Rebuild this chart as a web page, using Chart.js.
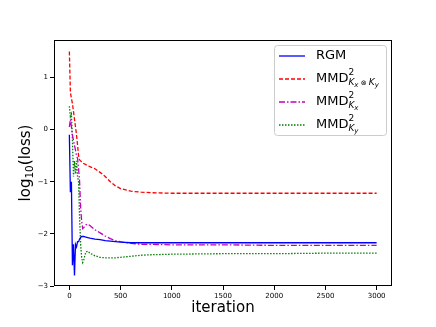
<!DOCTYPE html>
<html>
<head>
<meta charset="utf-8">
<script src="https://cdn.jsdelivr.net/npm/chart.js@4"></script>
<style>
  html, body { margin: 0; padding: 0; background: #fff; }
  #wrap { width: 436px; height: 327px; }
</style>
</head>
<body>
<div id="wrap"><canvas id="lossChart" width="436" height="327"></canvas></div>
<script>
const iterations = [0, 10, 20, 30, 40, 50, 60, 70, 80, 90, 100, 110, 120, 130, 140, 160, 180, 200,
    250, 300, 350, 400, 450, 500, 600, 700, 800, 1000, 1500, 2000, 2500, 3000];

const rgm = [-0.1, -1.2, -1.0, -2.6, -2.2, -2.8, -2.2, -2.25, -2.15, -2.15, -2.1, -2.07, -2.05, -2.05, -2.05,
    -2.06, -2.07, -2.08, -2.1, -2.11, -2.13, -2.14, -2.15, -2.16, -2.17, -2.17, -2.17, -2.17, -2.17, -2.17, -2.17, -2.17];

const mmdKxKy = [1.5, 0.72, 0.6, 0.5, 0.35, 0.2, 0.05, -0.1, -0.3, -0.5, -0.58, -0.6, -0.62, -0.64, -0.65,
    -0.67, -0.69, -0.71, -0.75, -0.82, -0.9, -1.0, -1.08, -1.13, -1.18, -1.2, -1.21, -1.22, -1.22, -1.22, -1.22, -1.22];

const mmdKx = [0.05, 0.2, 0.05, -0.1, -0.2, -0.3, -0.4, -0.5, -0.55, -0.75, -1.0, -1.5, -1.75, -1.9, -1.88,
    -1.83, -1.81, -1.84, -1.92, -1.98, -2.04, -2.09, -2.13, -2.15, -2.18, -2.2, -2.2, -2.21, -2.21, -2.22, -2.22, -2.22];

const mmdKy = [0.45, 0.25, 0.3, -0.2, -0.9, -0.6, -0.85, -0.6, -0.9, -1.0, -1.7, -2.2, -2.45, -2.55, -2.5,
    -2.35, -2.33, -2.37, -2.42, -2.45, -2.46, -2.46, -2.46, -2.45, -2.43, -2.41, -2.4, -2.39, -2.38, -2.38, -2.37, -2.37];

const xTicks = [0, 500, 1000, 1500, 2000, 2500, 3000];
const yTicks = [-3, -2, -1, 0, 1];

const FONT = "'DejaVu Sans', sans-serif";

function toPoints(ys) {
    return iterations.map((x, i) => ({ x: x, y: ys[i] }));
}

// draws a row of text pieces; each piece: [text, size, dy, italic, mode]
function drawPieces(ctx, pieces, x, y) {
    let cx = x;
    pieces.forEach(p => {
        const [text, size, dy, italic, mode] = p;
        ctx.font = (italic ? 'italic ' : '') + size + 'px ' + FONT;
        ctx.fillText(text, cx, y + dy);
        if (mode === 'nomove') return;
        cx += ctx.measureText(text).width;
    });
    return cx - x;
}

const legendRows = [
    { color: '#0000ff', dash: [], pieces: [['RGM', 13, 0, false]] },
    { color: '#ff0000', dash: [4, 2], pieces: [
        ['MMD', 13, 0, false],
        ['2', 9, -6, false, 'nomove'],
        ['K', 9, 4, true],
        ['x', 7, 6, true],
        [' \u2297 ', 7, 4, false],
        ['K', 9, 4, true],
        ['y', 7, 6, true]
    ] },
    { color: '#bf00bf', dash: [6, 2, 1.5, 2], pieces: [
        ['MMD', 13, 0, false],
        ['2', 9, -6, false, 'nomove'],
        ['K', 9, 4, true],
        ['x', 7, 6, true]
    ] },
    { color: '#008000', dash: [1.5, 1.5], pieces: [
        ['MMD', 13, 0, false],
        ['2', 9, -6, false, 'nomove'],
        ['K', 9, 4, true],
        ['y', 7, 6, true]
    ] }
];

const decorPlugin = {
    id: 'decor',
    afterDatasetsDraw(chart) {
        const ctx = chart.ctx;
        const a = chart.chartArea;
        ctx.save();

        // axes frame
        ctx.strokeStyle = '#000';
        ctx.lineWidth = 1;
        ctx.setLineDash([]);
        ctx.strokeRect(a.left + 0.5, a.top + 0.5, a.right - a.left - 1, a.bottom - a.top - 1);

        // legend box
        const bx = 274, by = 45, bw = 112, bh = 90;
        ctx.fillStyle = 'rgba(255,255,255,0.8)';
        ctx.strokeStyle = '#cccccc';
        ctx.beginPath();
        ctx.roundRect(bx + 0.5, by + 0.5, bw, bh, 3);
        ctx.fill();
        ctx.stroke();

        const rowY = [56, 79, 102, 125];
        legendRows.forEach((row, i) => {
            const y = rowY[i];
            ctx.strokeStyle = row.color;
            ctx.lineWidth = 1.3;
            ctx.setLineDash(row.dash);
            ctx.beginPath();
            ctx.moveTo(279, y);
            ctx.lineTo(305, y);
            ctx.stroke();
            ctx.fillStyle = '#000';
            ctx.textBaseline = 'middle';
            ctx.textAlign = 'left';
            drawPieces(ctx, row.pieces, 316, y);
        });

        // x axis title
        ctx.setLineDash([]);
        ctx.fillStyle = '#000';
        ctx.textAlign = 'center';
        ctx.textBaseline = 'middle';
        ctx.font = '15px ' + FONT;
        ctx.fillText('iteration', (a.left + a.right) / 2, 308);

        // y axis title: log10(loss)
        ctx.translate(26, (a.top + a.bottom) / 2);
        ctx.rotate(-Math.PI / 2);
        ctx.textAlign = 'left';
        ctx.font = '15px ' + FONT;
        const w1 = ctx.measureText('log').width;
        const w3 = ctx.measureText('(loss)').width;
        ctx.font = '10.5px ' + FONT;
        const w2 = ctx.measureText('10').width;
        let sx = -(w1 + w2 + w3) / 2;
        ctx.font = '15px ' + FONT;
        ctx.fillText('log', sx, 0);
        sx += w1;
        ctx.font = '10.5px ' + FONT;
        ctx.fillText('10', sx, 4);
        sx += w2;
        ctx.font = '15px ' + FONT;
        ctx.fillText('(loss)', sx, 0);

        ctx.restore();
    }
};

function lineSet(label, ys, color, dash) {
    return {
        label: label,
        data: toPoints(ys),
        borderColor: color,
        borderWidth: 1.3,
        borderDash: dash,
        pointRadius: 0,
        fill: false,
        tension: 0
    };
}

function renderLossChart() {
    const canvas = document.getElementById('lossChart');
    if (!canvas) {
        console.error('Canvas #lossChart not found!');
        return;
    }

    new Chart(canvas, {
        type: 'line',
        data: {
            datasets: [
                lineSet('RGM', rgm, '#0000ff', []),
                lineSet('MMD Kx⊗Ky', mmdKxKy, '#ff0000', [4, 2]),
                lineSet('MMD Kx', mmdKx, '#bf00bf', [6, 2, 1.5, 2]),
                lineSet('MMD Ky', mmdKy, '#008000', [1.5, 1.5])
            ]
        },
        options: {
            responsive: false,
            animation: false,
            layout: { padding: { left: 0, right: 44, top: 40, bottom: 0 } },
            plugins: {
                legend: { display: false },
                tooltip: { enabled: false }
            },
            scales: {
                x: {
                    type: 'linear',
                    min: -150,
                    max: 3150,
                    afterBuildTicks: s => { s.ticks = xTicks.map(v => ({ value: v })); },
                    afterFit: s => { s.height = 41; },
                    grid: { drawOnChartArea: false, drawTicks: true, tickLength: 4, color: '#000' },
                    border: { display: false },
                    ticks: {
                        color: '#000',
                        padding: 2,
                        maxRotation: 0,
                        font: { family: FONT, size: 7 },
                        callback: v => String(v)
                    }
                },
                y: {
                    type: 'linear',
                    min: -3,
                    max: 1.72,
                    afterBuildTicks: s => { s.ticks = yTicks.map(v => ({ value: v })); },
                    afterFit: s => { s.width = 54; },
                    grid: { drawOnChartArea: false, drawTicks: true, tickLength: 4, color: '#000' },
                    border: { display: false },
                    ticks: {
                        color: '#000',
                        padding: 2,
                        font: { family: FONT, size: 7 },
                        callback: v => String(v).replace('-', '\u2212')
                    }
                }
            }
        },
        plugins: [decorPlugin]
    });
}

renderLossChart();
</script>
</body>
</html>
